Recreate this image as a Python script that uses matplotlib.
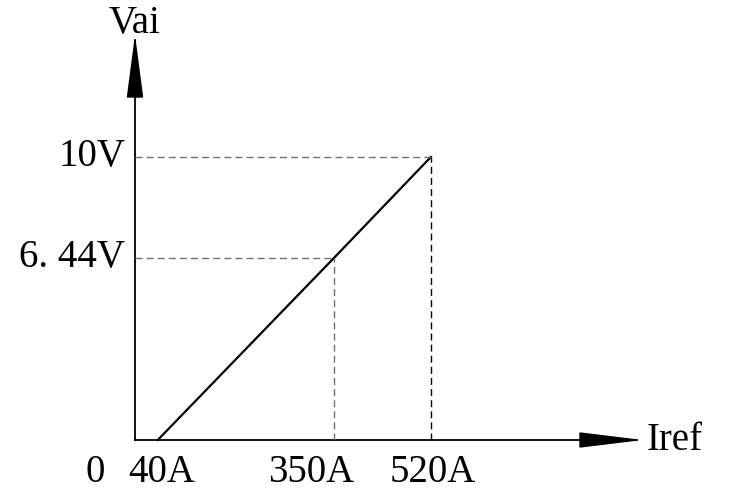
import matplotlib.pyplot as plt

# line from the 40A start to the 520A / 10V end
iref = [40, 350, 520]
vai = [0, 6.44, 10]
x_labels = ['40A', '350A', '520A']
y_labels = ['10V', '6. 44V']
y_ticks = [10, 6.44]

W, H = 734, 492
x0, y0 = 135, 440          # origin in pixels
px_per_a = 0.569
px_per_v = 28.3
x_end, y_end = 637, 40     # arrow tips

plt.rcParams['font.family'] = ['Liberation Serif', 'DejaVu Serif']

fig = plt.figure(figsize=(W / 100, H / 100), dpi=100)
ax = fig.add_axes([x0 / W, (H - y0) / H, (x_end - x0) / W, (y0 - y_end) / H])
ax.set_xlim(0, (x_end - x0) / px_per_a)
ax.set_ylim(0, (y0 - y_end) / px_per_v)
ax.axis('off')

# axes lines
ax.plot([0, 1], [0, 0], transform=ax.transAxes, color='black', lw=1.3, clip_on=False)
ax.plot([0, 0], [0, 1], transform=ax.transAxes, color='black', lw=1.3, clip_on=False)

# arrow heads
ax.fill([1, 1 - 57 / (x_end - x0), 1 - 57 / (x_end - x0)],
        [0, 7 / (y0 - y_end), -7 / (y0 - y_end)],
        transform=ax.transAxes, color='black', clip_on=False)
ax.fill([0, 7.5 / (x_end - x0), -7.5 / (x_end - x0)],
        [1, 1 - 57 / (y0 - y_end), 1 - 57 / (y0 - y_end)],
        transform=ax.transAxes, color='black', clip_on=False)

# main line
ax.plot(iref, vai, color='black', lw=1.6, clip_on=False)

# dashed guides
ax.plot([0, iref[1]], [vai[1], vai[1]], color='#707070', lw=1, ls=(0, (5, 3)))
ax.plot([iref[1], iref[1]], [0, vai[1]], color='#707070', lw=1, ls=(0, (5, 3)))
ax.plot([0, iref[2]], [vai[2], vai[2]], color='#707070', lw=1, ls=(0, (5, 3)))
ax.plot([iref[2], iref[2]], [0, vai[2]], color='black', lw=1, ls=(0, (5, 3)))

fs = 28
# y labels
for t, v in zip(y_labels, y_ticks):
    ax.text(-10 / px_per_a, v, t, ha='right', va='center', fontsize=fs)

# x labels
x_shift = [4, -23, 2]
for t, a, s in zip(x_labels, iref, x_shift):
    ax.text(a + s / px_per_a, -33 / px_per_v, t, ha='center', va='center', fontsize=fs)
ax.text(-40 / px_per_a, -33 / px_per_v, '0', ha='center', va='center', fontsize=fs)

ax.text(0, (y0 - 24) / px_per_v, 'Vai', ha='center', va='center', fontsize=fs, clip_on=False)
ax.text((647 - x0) / px_per_a, 0, 'Iref', ha='left', va='center', fontsize=fs, clip_on=False)

fig.savefig('out.png', dpi=100)
